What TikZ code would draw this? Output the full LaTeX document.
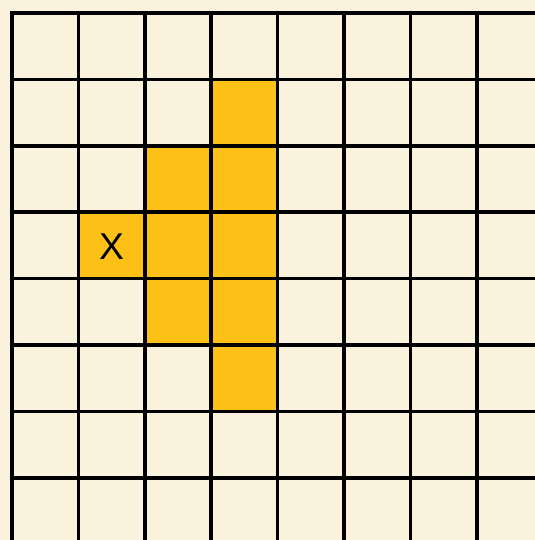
\documentclass[tikz,border=0pt]{standalone}
\usepackage{fontspec}
\setmainfont{Liberation Sans}
\definecolor{paper}{RGB}{251,242,222}
\definecolor{gold}{RGB}{253,192,22}
\begin{document}
\begin{tikzpicture}[x=0.75pt, y=-0.75pt, every node/.style={font=\fontsize{28}{28}\selectfont}]
  \fill[paper] (0,0) rectangle (535,540);
  \clip (0,0) rectangle (535,540);

  % filled cells, given as column/row
  \foreach \c/\r in {3/1, 2/2, 3/2, 1/3, 2/3, 3/3, 2/4, 3/4, 3/5}
    \fill[gold] (12+66.4*\c, 13+66.4*\r) rectangle ++(66.4,66.4);

  % grid lines
  \foreach \i in {0,...,8} {
    \draw[line width=2.8pt, line cap=rect] (12+66.4*\i, 13) -- (12+66.4*\i, 560);
    \draw[line width=2.8pt, line cap=rect] (12, 13+66.4*\i) -- (560, 13+66.4*\i);
  }

  \node (start) at (111.5, 247) {X};
\end{tikzpicture}
\end{document}
